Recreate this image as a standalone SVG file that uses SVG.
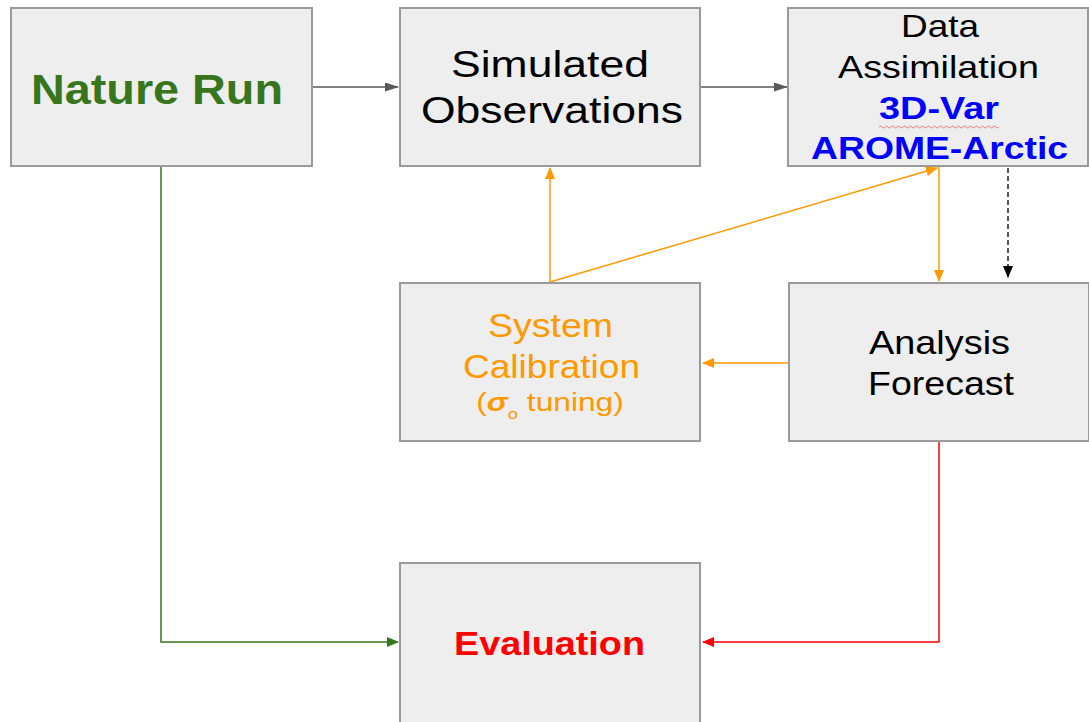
<svg xmlns="http://www.w3.org/2000/svg" width="1089" height="722" viewBox="0 0 1089 722">
<style>
.box{fill:#eeeeee;stroke:#9a9a9a;stroke-width:2}
text{font-family:"Liberation Sans",Arial,sans-serif;text-anchor:middle}
.c{fill:none;stroke-width:1.5}
</style>
<defs>
<marker id="aG" markerWidth="14" markerHeight="9" refX="13" refY="4.5" orient="auto" markerUnits="userSpaceOnUse"><path d="M0,0 L14,4.5 L0,9 Z" fill="#595959"/></marker>
<marker id="aO" markerWidth="12" markerHeight="10" refX="11" refY="5" orient="auto" markerUnits="userSpaceOnUse"><path d="M0,0 L12,5 L0,10 Z" fill="#ff9900"/></marker>
<marker id="aGr" markerWidth="12" markerHeight="10" refX="11" refY="5" orient="auto" markerUnits="userSpaceOnUse"><path d="M0,0 L12,5 L0,10 Z" fill="#38761d"/></marker>
<marker id="aR" markerWidth="12" markerHeight="10" refX="11" refY="5" orient="auto" markerUnits="userSpaceOnUse"><path d="M0,0 L12,5 L0,10 Z" fill="#ff0000"/></marker>
<marker id="aK" markerWidth="12" markerHeight="10" refX="11" refY="5" orient="auto" markerUnits="userSpaceOnUse"><path d="M0,0 L12,5 L0,10 Z" fill="#000"/></marker>
</defs>
<rect width="1089" height="722" fill="#fff"/>
<g id="connectors">
<line class="c" x1="313" y1="87" x2="398" y2="87" stroke="#595959" marker-end="url(#aG)"/>
<line class="c" x1="701" y1="87" x2="787" y2="87" stroke="#595959" marker-end="url(#aG)"/>
<line class="c" x1="550" y1="282" x2="550" y2="168" stroke="#ff9900" marker-end="url(#aO)"/>
<line class="c" x1="550" y1="282" x2="937" y2="168" stroke="#ff9900" marker-end="url(#aO)"/>
<line class="c" x1="939" y1="167" x2="939" y2="281" stroke="#ff9900" marker-end="url(#aO)"/>
<line x1="1008" y1="168" x2="1008" y2="277" stroke="#555" stroke-width="2" stroke-dasharray="5,3" fill="none" marker-end="url(#aK)"/>
<line class="c" x1="788" y1="363" x2="703" y2="363" stroke="#ff9900" marker-end="url(#aO)"/>
<polyline class="c" points="161,167 161,642 398,642" stroke="#38761d" marker-end="url(#aGr)"/>
<polyline class="c" points="939,442 939,642 703,642" stroke="#ff0000" marker-end="url(#aR)"/>
</g>
<g id="nature-run">
<rect class="box" x="11" y="8" width="301" height="158"/>
<text x="157" y="104" fill="#38761d" font-size="43" font-weight="bold" textLength="252" lengthAdjust="spacingAndGlyphs">Nature Run</text>
</g>
<g id="simulated-observations">
<rect class="box" x="400" y="8" width="300" height="158"/>
<text x="550" y="77" font-size="37" fill="#000" textLength="198" lengthAdjust="spacingAndGlyphs">Simulated</text>
<text x="552" y="123" font-size="37" fill="#000" textLength="262" lengthAdjust="spacingAndGlyphs">Observations</text>
</g>
<g id="data-assimilation">
<rect class="box" x="788" y="8" width="300" height="158"/>
<text x="940" y="37" font-size="32" fill="#000" textLength="78" lengthAdjust="spacingAndGlyphs">Data</text>
<text x="938.5" y="78" font-size="32" fill="#000" textLength="201" lengthAdjust="spacingAndGlyphs">Assimilation</text>
<text x="939" y="119" font-size="32" font-weight="bold" fill="#0000ff" textLength="120" lengthAdjust="spacingAndGlyphs">3D-Var</text>
<path d="M879,127 q1.5,-2 3,0 t3,0 t3,0 t3,0 t3,0 t3,0 t3,0 t3,0 t3,0 t3,0 t3,0 t3,0 t3,0 t3,0 t3,0 t3,0 t3,0 t3,0 t3,0 t3,0 t3,0 t3,0 t3,0 t3,0 t3,0 t3,0 t3,0 t3,0 t3,0 t3,0 t3,0 t3,0 t3,0 t3,0 t3,0 t3,0 t3,0 t3,0 t3,0 t3,0" fill="none" stroke="#e06060" stroke-width="0.8"/>
<text x="939.5" y="159" font-size="32" font-weight="bold" fill="#0000ff" textLength="257" lengthAdjust="spacingAndGlyphs">AROME-Arctic</text>
</g>
<g id="system-calibration">
<rect class="box" x="400" y="283" width="300" height="158"/>
<text x="550.5" y="337" font-size="33" fill="#ff9900" textLength="125" lengthAdjust="spacingAndGlyphs">System</text>
<text x="551.5" y="378" font-size="33" fill="#ff9900" textLength="177" lengthAdjust="spacingAndGlyphs">Calibration</text>
<text transform="translate(550,411) scale(1.22,1)" x="0" y="0" font-size="26" fill="#ff9900">(<tspan font-weight="bold" font-style="italic">σ</tspan><tspan font-size="15" dy="8">o</tspan><tspan dy="-8"> tuning)</tspan></text>
</g>
<g id="analysis-forecast">
<rect class="box" x="789" y="283" width="300" height="158"/>
<text x="939.5" y="354" font-size="33" fill="#000" textLength="141" lengthAdjust="spacingAndGlyphs">Analysis</text>
<text x="941" y="395" font-size="33" fill="#000" textLength="146" lengthAdjust="spacingAndGlyphs">Forecast</text>
</g>
<g id="evaluation">
<rect class="box" x="400" y="563" width="300" height="170"/>
<text x="549.5" y="655" font-size="34" font-weight="bold" fill="#ff0000" textLength="191" lengthAdjust="spacingAndGlyphs">Evaluation</text>
</g>
</svg>
